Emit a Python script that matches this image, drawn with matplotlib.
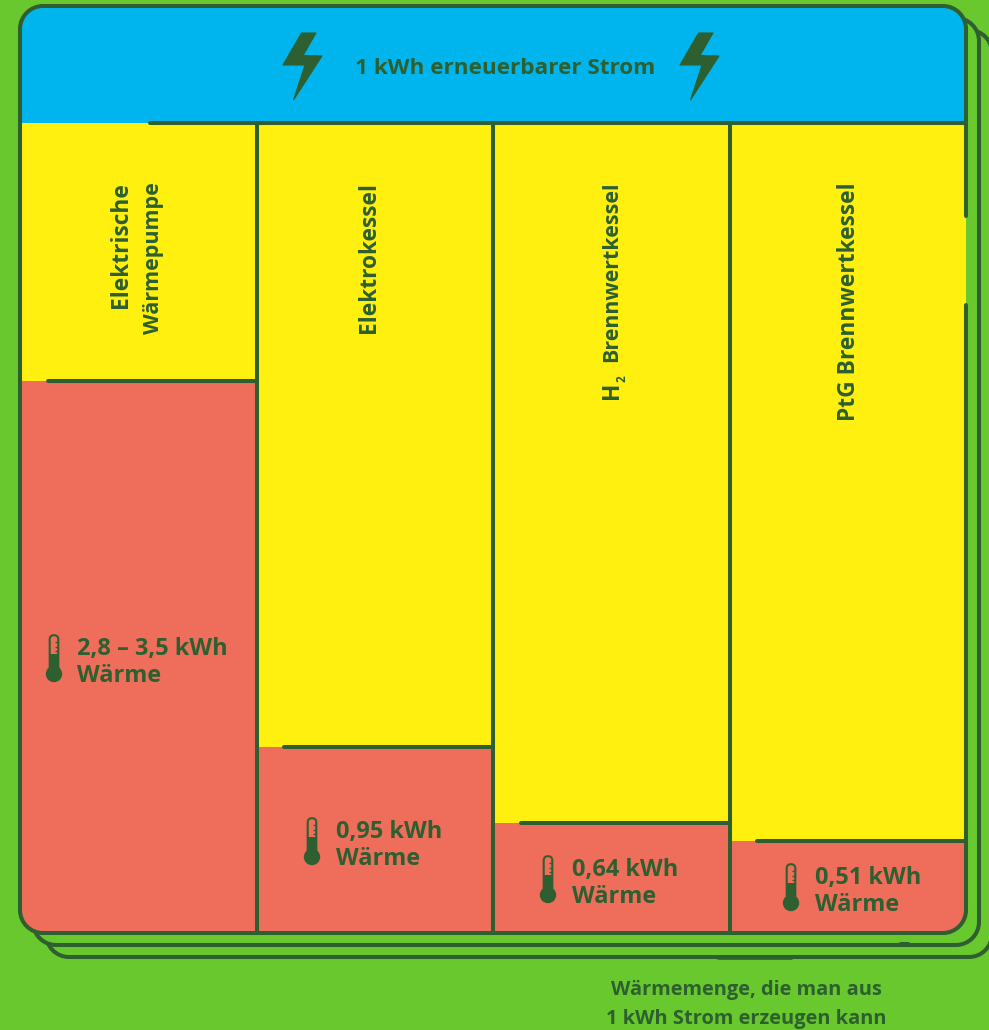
import numpy as np
import matplotlib
matplotlib.use("Agg")
import matplotlib.pyplot as plt
from matplotlib.path import Path
from matplotlib.patches import PathPatch, Polygon, Rectangle, Circle, FancyBboxPatch
from matplotlib.scale import FuncScale

# Heat obtained from 1 kWh of renewable electricity, per technology
technologies = ["Elektrische\nWärmepumpe", "Elektrokessel", "H2 Brennwertkessel", "PtG Brennwertkessel"]
heat_kwh = [3.15, 0.95, 0.64, 0.51]
heat_labels = ["2,8 – 3,5 kWh", "0,95 kWh", "0,64 kWh", "0,51 kWh"]
heat_unit = "Wärme"
header = "1 kWh erneuerbarer Strom"
caption = ["Wärmemenge, die man aus", "1 kWh Strom erzeugen kann"]

GREEN = "#68C82D"
BLUE = "#00B5EE"
YELLOW = "#FFF00F"
RED = "#EF6E5B"
DARK = "#2D5F30"
LW = 2.9
FONT = "Open Sans"

W, H = 989, 1030
L, R, T, MID, B = 20, 966, 6, 123, 933
RADIUS = 23

# The schematic kWh axis is not linear: it is defined by these anchor pairs
AXIS_TOP = 4.5
scale_kwh = [0, 0.51, 0.64, 0.95, 3.15, AXIS_TOP]
scale_pos = [0, 92, 110, 186, 552, 810]


def rounded(x0, y0, x1, y1, r, gap=None):
    """Rounded rectangle path, optionally left open along the right edge."""
    k = 0.5523 * r
    start = gap[1] if gap else y0 + r
    v = [(x1, start), (x1, y1 - r),
         (x1, y1 - r + k), (x1 - r + k, y1), (x1 - r, y1),
         (x0 + r, y1),
         (x0 + r - k, y1), (x0, y1 - r + k), (x0, y1 - r),
         (x0, y0 + r),
         (x0, y0 + r - k), (x0 + r - k, y0), (x0 + r, y0),
         (x1 - r, y0),
         (x1 - r + k, y0), (x1, y0 + r - k), (x1, y0 + r)]
    c = [Path.MOVETO, Path.LINETO,
         Path.CURVE4, Path.CURVE4, Path.CURVE4,
         Path.LINETO,
         Path.CURVE4, Path.CURVE4, Path.CURVE4,
         Path.LINETO,
         Path.CURVE4, Path.CURVE4, Path.CURVE4,
         Path.LINETO,
         Path.CURVE4, Path.CURVE4, Path.CURVE4]
    if gap:
        v.append((x1, gap[0]))
        c.append(Path.LINETO)
    else:
        v.append((x1, start))
        c.append(Path.CLOSEPOLY)
    return Path(v, c)


def pixel_axes(z):
    a = fig.add_axes([0, 0, 1, 1], zorder=z)
    a.set_xlim(0, W)
    a.set_ylim(H, 0)
    a.axis("off")
    a.patch.set_alpha(0)
    return a


def bolt(a, dx):
    pts = np.array([(301.5, 33), (316, 33), (303, 55.5), (322, 56),
                    (293.5, 100), (305, 65), (283, 65)], float)
    pts[:, 0] += dx
    a.add_patch(Polygon(pts, closed=True, fc=DARK, ec=DARK, lw=0.8, joinstyle="round"))


def thermometer(a, cx, top):
    tube = FancyBboxPatch((cx - 4.3, top + 1.2), 8.6, 36, boxstyle="round,pad=0,rounding_size=4.3",
                          fc="none", ec=DARK, lw=1.5)
    a.add_patch(tube)
    a.add_patch(Rectangle((cx - 5, top + 20), 10, 21, fc=DARK, ec="none"))
    a.add_patch(Circle((cx, top + 40), 8.2, fc=DARK, ec="none"))
    for dy in (8, 12.5, 17):
        a.plot([cx + 0.5, cx + 3.5], [top + dy, top + dy], color=DARK, lw=1.0, solid_capstyle="butt")


fig = plt.figure(figsize=(W / 100, H / 100), dpi=100, facecolor=GREEN)

# Backdrop: the two stacked sheets and the blue header band
back = pixel_axes(0)
frame_path = rounded(L, T, R, B, RADIUS)
for dx, dy in ((26, 24), (13, 12)):
    back.add_patch(PathPatch(rounded(L + dx, T + dy, R + dx, B + dy, RADIUS),
                             fc=GREEN, ec=DARK, lw=LW))
back.plot([717, 792], [956.8, 956.8], color=DARK, lw=3.3, solid_capstyle="butt")
back.plot([899, 909], [944.4, 944.4], color=DARK, lw=3.6, solid_capstyle="butt")
band = Rectangle((L, T), R - L, MID - T, fc=BLUE, ec="none")
back.add_patch(band)
band.set_clip_path(frame_path, transform=back.transData)

# Columns: heat in red, the remainder in yellow
chart = fig.add_axes([L / W, 1 - B / H, (R - L) / W, (B - MID) / H], zorder=1)
chart.set_xscale("linear")
chart.set_yscale(FuncScale(chart.yaxis, (lambda v: np.interp(v, scale_kwh, scale_pos),
                                         lambda p: np.interp(p, scale_pos, scale_kwh))))
chart.set_xlim(0, len(heat_kwh))
chart.set_ylim(0, AXIS_TOP)
chart.axis("off")
chart.patch.set_alpha(0)
xs = np.arange(len(heat_kwh))
heat = np.array(heat_kwh)
red_bars = chart.bar(xs, heat, width=1, align="edge", color=RED, linewidth=0)
yellow_bars = chart.bar(xs, AXIS_TOP - heat, bottom=heat, width=1, align="edge", color=YELLOW, linewidth=0)
for bar in list(red_bars) + list(yellow_bars):
    bar.set_clip_path(frame_path, transform=back.transData)

for x, h in zip(xs, heat):
    chart.plot([x + 0.117, x + 1], [h, h], color=DARK, lw=LW, solid_capstyle="round", clip_on=False)
chart.plot([0.55, len(xs)], [AXIS_TOP, AXIS_TOP], color=DARK, lw=LW, solid_capstyle="round", clip_on=False)
for x in xs[1:]:
    chart.plot([x, x], [0, AXIS_TOP], color=DARK, lw=LW, solid_capstyle="butt", clip_on=False)

# Foreground: outline with its opening on the right, icons and all text
front = pixel_axes(2)
front.add_patch(PathPatch(rounded(L, T, R, B, RADIUS, gap=(216, 305)),
                          fc="none", ec=DARK, lw=LW, capstyle="round"))
bolt(front, 0)
bolt(front, 397)

text_kw = dict(color=DARK, family=FONT, fontweight="bold")
front.text(505.5, 74, header, ha="center", va="baseline", fontsize=16.2, **text_kw)

ROT_SIZE = 16.4
rot_kw = dict(va="center", rotation=90, rotation_mode="anchor", **text_kw)
front.text(121, 182, "Elektrische", ha="right", fontsize=ROT_SIZE, **rot_kw)
front.text(153, 182, "Wärmepumpe", ha="right", fontsize=15.5, **rot_kw)
front.text(369, 182, technologies[1], ha="right", fontsize=ROT_SIZE, **rot_kw)
front.text(612, 182, "Brennwertkessel", ha="right", fontsize=15.4, **rot_kw)
front.text(612, 399, "H", ha="left", fontsize=ROT_SIZE, **rot_kw)
front.text(622, 382, "2", ha="left", fontsize=8.5, **rot_kw)
front.text(849, 182, technologies[3], ha="right", fontsize=ROT_SIZE, **rot_kw)

thermo_x = [54, 312, 548, 791]
thermo_top = [634, 817, 855, 863]
label_x = [77, 336, 572, 815]
for cx, top, lx, lab in zip(thermo_x, thermo_top, label_x, heat_labels):
    thermometer(front, cx, top)
    front.text(lx, top + 21, lab, ha="left", va="baseline", fontsize=16.9, **text_kw)
    front.text(lx, top + 48, heat_unit, ha="left", va="baseline", fontsize=16.9, **text_kw)

front.text(746, 995, caption[0], ha="center", va="baseline", fontsize=14.4, **text_kw)
front.text(746, 1024, caption[1], ha="center", va="baseline", fontsize=14.4, **text_kw)

fig.savefig("out.png", dpi=100, facecolor=GREEN)
